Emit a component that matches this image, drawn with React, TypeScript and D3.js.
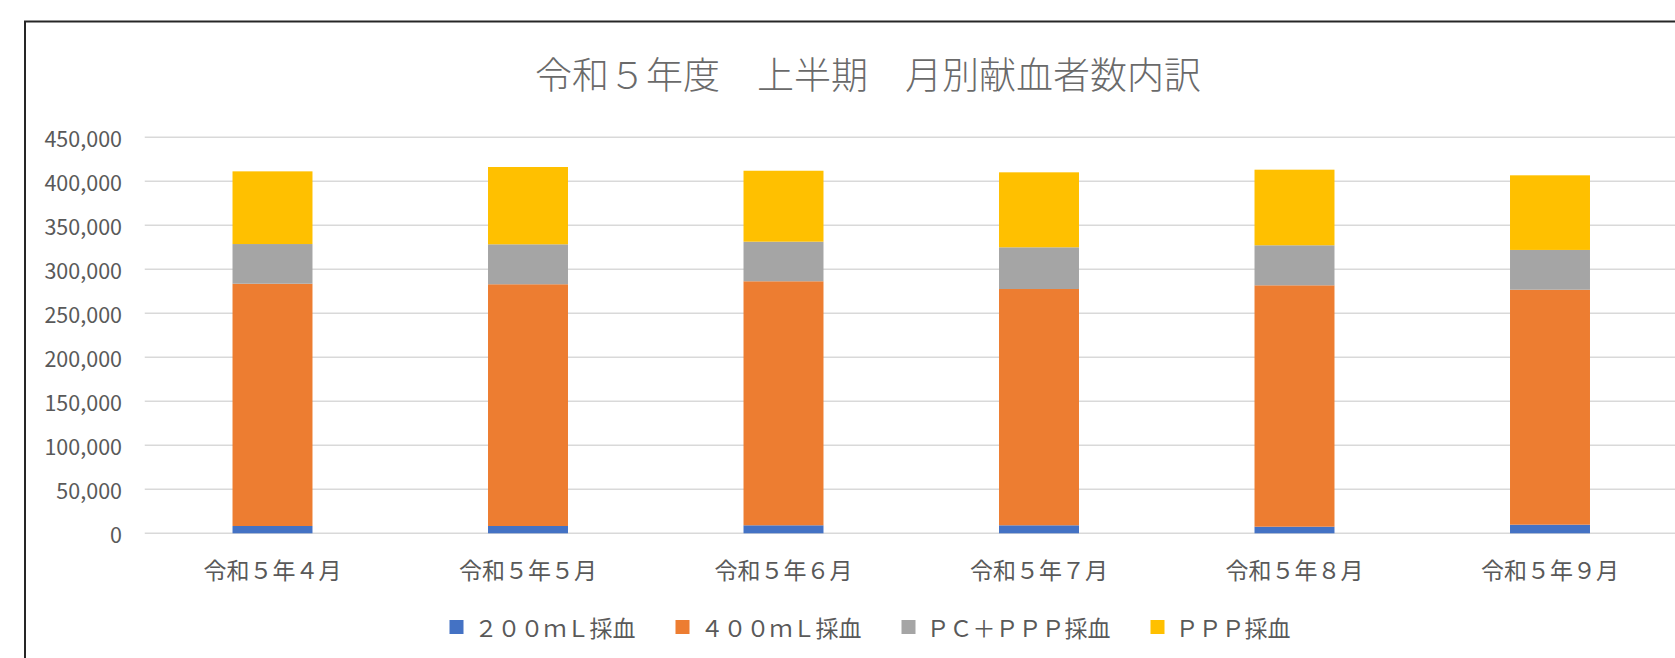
import React, { useEffect, useRef } from 'react';
import * as d3 from 'd3';

const months = ['令和５年４月', '令和５年５月', '令和５年６月', '令和５年７月', '令和５年８月', '令和５年９月'];
const seriesNames = ['２００ｍＬ採血', '４００ｍＬ採血', 'ＰＣ＋ＰＰＰ採血', 'ＰＰＰ採血'];
const seriesColors = ['#4472C4', '#ED7D31', '#A5A5A5', '#FFC000'];

const ml200 = [8300, 8300, 9100, 9100, 7500, 9800];
const ml400 = [275300, 274700, 277300, 268500, 274300, 267000];
const pcPpp = [45100, 45400, 45000, 47400, 45500, 45200];
const ppp = [82600, 87850, 80600, 85200, 85900, 84800];

const yTicks = [0, 50000, 100000, 150000, 200000, 250000, 300000, 350000, 400000, 450000];

const title = '令和５年度　上半期　月別献血者数内訳';

const W = 1675;
const H = 658;
const FONT = '"Noto Sans CJK JP", "Noto Sans", sans-serif';
const TEXT = '#595959';

const App: React.FC = () => {
  const svgRef = useRef<SVGSVGElement>(null);

  useEffect(() => {
    if (!svgRef.current) return;
    const svg = d3.select(svgRef.current);
    svg.selectAll('*').remove();

    // chart frame (right / bottom edges sit outside the picture)
    svg.append('rect')
      .attr('x', 25).attr('y', 21.5)
      .attr('width', 1720).attr('height', 700)
      .attr('fill', '#fff')
      .attr('stroke', '#262626')
      .attr('stroke-width', 2);

    svg.append('text')
      .attr('x', 868).attr('y', 73)
      .attr('text-anchor', 'middle')
      .attr('dominant-baseline', 'central')
      .attr('font-family', FONT)
      .attr('font-size', 37)
      .attr('font-weight', 300)
      .attr('fill', '#6a6a6a')
      .text(title);

    const x = d3.scaleBand<string>()
      .domain(months)
      .range([144.75, 1677.75])
      .paddingInner(0.687)
      .paddingOuter(0.3435);

    const y = d3.scaleLinear()
      .domain([0, 450000])
      .range([533.3, 137.3]);

    // grid
    svg.append('g')
      .selectAll('line')
      .data(yTicks)
      .enter()
      .append('line')
      .attr('x1', 144.75).attr('x2', 1680)
      .attr('y1', d => y(d)).attr('y2', d => y(d))
      .attr('stroke', '#d9d9d9')
      .attr('stroke-width', 1.5);

    svg.append('g')
      .selectAll('text')
      .data(yTicks)
      .enter()
      .append('text')
      .attr('x', 122)
      .attr('y', d => y(d))
      .attr('text-anchor', 'end')
      .attr('dominant-baseline', 'central')
      .attr('font-family', FONT)
      .attr('font-size', 21.5)
      .attr('fill', TEXT)
      .text(d => d3.format(',')(d));

    // stacked bars
    const rows = months.map((m, i) => ({
      month: m,
      s0: ml200[i], s1: ml400[i], s2: pcPpp[i], s3: ppp[i],
    }));
    const stack = d3.stack<any>().keys(['s0', 's1', 's2', 's3']);
    const layers = stack(rows);

    svg.append('g')
      .selectAll('g')
      .data(layers)
      .enter()
      .append('g')
      .attr('fill', (d, i) => seriesColors[i])
      .selectAll('rect')
      .data(d => d)
      .enter()
      .append('rect')
      .attr('x', d => x(d.data.month)!)
      .attr('width', x.bandwidth())
      .attr('y', d => y(d[1]))
      .attr('height', d => y(d[0]) - y(d[1]));

    // category labels
    svg.append('g')
      .selectAll('text')
      .data(months)
      .enter()
      .append('text')
      .attr('x', d => x(d)! + x.bandwidth() / 2)
      .attr('y', 569)
      .attr('text-anchor', 'middle')
      .attr('dominant-baseline', 'central')
      .attr('font-family', FONT)
      .attr('font-size', 23)
      .attr('fill', TEXT)
      .text(d => d);

    // legend, centred under the chart
    const legend = svg.append('g');
    const items = seriesNames.map((name, i) => {
      const g = legend.append('g');
      g.append('rect')
        .attr('width', 14).attr('height', 14)
        .attr('y', 627 - 7)
        .attr('fill', seriesColors[i]);
      const t = g.append('text')
        .attr('x', 25)
        .attr('y', 627)
        .attr('dominant-baseline', 'central')
        .attr('font-family', FONT)
        .attr('font-size', 23)
        .attr('fill', TEXT)
        .text(name);
      const w = 25 + (t.node() as SVGTextElement).getComputedTextLength();
      return { g, w };
    });
    const gap = 40;
    const total = d3.sum(items, d => d.w) + gap * (items.length - 1);
    let cx = 870 - total / 2;
    items.forEach(it => {
      it.g.attr('transform', `translate(${cx},0)`);
      cx += it.w + gap;
    });
  }, []);

  return (
    <svg
      ref={svgRef}
      width={W}
      height={H}
      style={{ position: 'absolute', left: 0, top: 0, background: '#fff' }}
    />
  );
};

export default App;
